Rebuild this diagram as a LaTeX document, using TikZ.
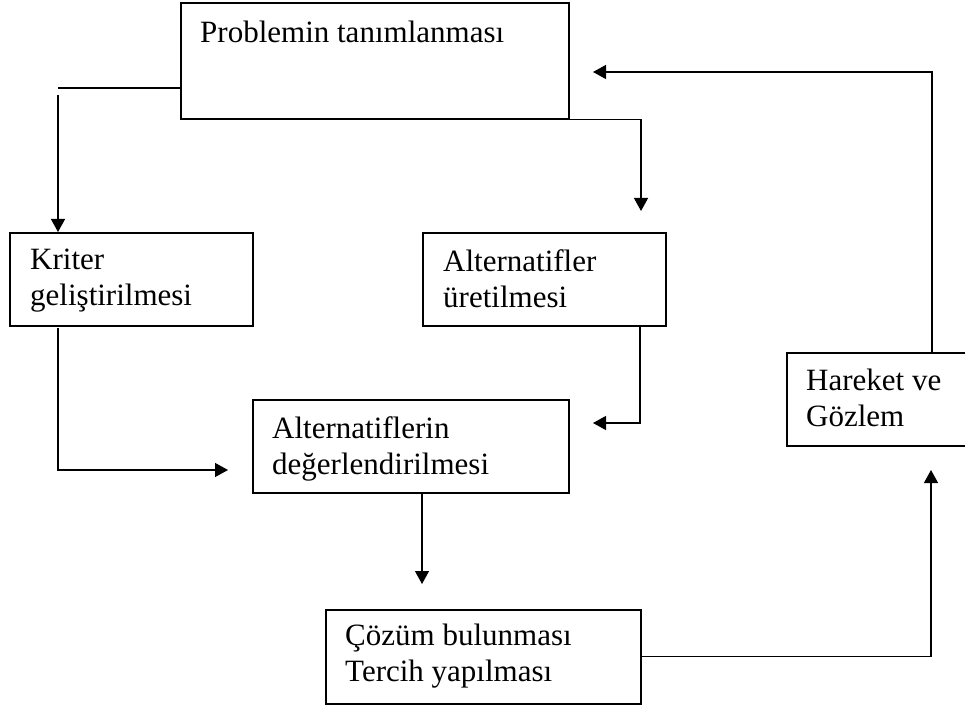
\documentclass[tikz,border=0pt]{standalone}
\usepackage{fontspec}
\setmainfont{Liberation Serif}
\usetikzlibrary{arrows.meta}
\begin{document}
\begin{tikzpicture}[x=1pt,y=-1pt,
  box/.style={draw, line width=1.6pt, inner sep=0pt, anchor=north west},
  txt/.style={font=\fontsize{31}{36}\selectfont, align=left, inner sep=0pt, anchor=north west},
  conn/.style={line width=1.3pt},
  arr/.style={conn, -{Triangle[length=13pt,width=14pt]}}]
\useasboundingbox (0,0) rectangle (965,708);
\clip (0,0) rectangle (965,708);
% boxes
\node[box, minimum width=388pt, minimum height=116pt] (p) at (180,2) {};
\node[box, minimum width=243pt, minimum height=93pt] (k) at (9,232) {};
\node[box, minimum width=243pt, minimum height=93pt] (a) at (422,232) {};
\node[box, minimum width=316pt, minimum height=93pt] (e) at (252,399) {};
\node[box, minimum width=315pt, minimum height=94pt] (s) at (325,609) {};
\node[box, minimum width=190pt, minimum height=93pt] (h) at (786,352) {};
% texts
\node[txt] (tp) at (200,21) {Problemin tanımlanması};
\node[txt] (tk) at (30,249) {Kriter\\geliştirilmesi};
\node[txt] (ta) at (443,249) {Alternatifler\\üretilmesi};
\node[txt] (te) at (272,416) {Alternatiflerin\\değerlendirilmesi};
\node[txt] (ts) at (345,624) {Çözüm bulunması\\Tercih yapılması};
\node[txt] (th) at (806,369) {Hareket ve\\Gözlem};
% coordinates
\coordinate (c1) at (58,88);
\coordinate (c1b) at (58,95);
\coordinate (c2) at (641,118);
\coordinate (c2b) at (641,211);
\coordinate (c3a) at (58,328);
\coordinate (c3b) at (58,470);
\coordinate (c3c) at (228,470);
\coordinate (c4a) at (640,325);
\coordinate (c4b) at (640,423);
\coordinate (c4c) at (593,423);
\coordinate (c5) at (422,584);
\coordinate (c6b) at (931,470);
\coordinate (c7a) at (932,72);
\coordinate (c7b) at (593,72);
% connectors
\draw[conn] (p.west |- c1) -- (c1);
\draw[arr] (c1b) -- (c1b |- k.north);
\draw[arr] (p.south east) -- (p.south east -| c2) -- (c2b);
\draw[arr] (c3a) -- (c3b) -- (c3c);
\draw[arr] (c4a) -- (c4b) -- (c4c);
\draw[arr] (e.south -| c5) -- (c5);
\draw[arr] (s.east) -- (s.east -| c6b) -- (c6b);
\draw[arr] (h.north -| c7a) -- (c7a) -- (c7b);
\end{tikzpicture}
\end{document}
